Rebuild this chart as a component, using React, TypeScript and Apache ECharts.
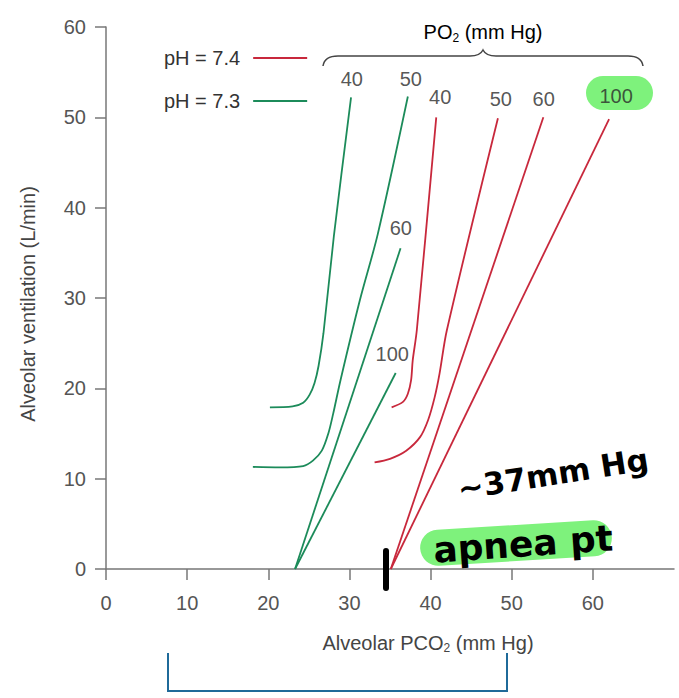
import React, { useEffect, useRef } from 'react';
import * as echarts from 'echarts';

const RED = '#c8283c';
const GREEN = '#1c8b5a';
const HIGHLIGHT = '#7ef27c';

// Alveolar ventilation (L/min) vs alveolar PCO2 (mm Hg): [PCO2, ventilation]
// pH = 7.4
const ph74_po2_40 = [[35.2, 17.9], [36.6, 18.5], [37.2, 19.4], [37.6, 20.9], [37.8, 23.1], [38.3, 26.4], [40.7, 50.0]];
const ph74_po2_50 = [[33.1, 11.8], [35.0, 12.2], [37.0, 13.1], [38.7, 14.6], [39.7, 16.5], [40.5, 19.0], [41.1, 21.6], [42.0, 26.4], [48.3, 49.9]];
const ph74_po2_60 = [[35.1, 0], [53.9, 50.0]];
const ph74_po2_100 = [[35.1, 0], [62.0, 49.8]];
// pH = 7.3
const ph73_po2_40 = [[20.2, 17.9], [23.0, 18.0], [24.3, 18.4], [25.1, 19.3], [25.7, 20.6], [26.2, 22.5], [26.8, 26.1], [28.1, 37.0], [30.2, 52.2]];
const ph73_po2_50 = [[18.1, 11.3], [21.4, 11.25], [24.3, 11.4], [25.5, 12.0], [26.6, 13.1], [27.4, 15.0], [28.0, 17.2], [28.9, 20.9], [31.3, 29.8], [33.5, 37.1], [37.2, 52.3]];
const ph73_po2_60 = [[23.3, 0], [36.3, 35.5]];
const ph73_po2_100 = [[23.3, 0], [35.7, 21.7]];

// PO2 labels placed at the curve ends
const curveLabelNames = ['40', '50', '60', '100', '40', '50', '60', '100'];
const curveLabelPositions = [
  [30.3, 54.2], [37.56, 54.2], [36.33, 37.7], [35.28, 23.8],
  [41.19, 52.3], [48.65, 52.0], [53.94, 52.0], [62.87, 52.4],
];

const xTicks = [0, 10, 20, 30, 40, 50, 60];
const legendNames = ['pH = 7.4', 'pH = 7.3'];

const braceD =
  'M323,66 C324,59 329,56 338,56 L470,56 C477,56 481,54 483,50 C485,54 489,56 496,56 L628,56 C637,56 642,59 643,66';
echarts.graphic.registerShape('brace', echarts.graphic.extendPath(braceD, {}));

const FONT = "'Liberation Sans', Arial, Helvetica, sans-serif";
const HAND = "'DejaVu Sans', sans-serif";
const FS = 20;

function lineSeries(name: string, data: number[][], color: string) {
  return {
    type: 'line',
    name,
    data,
    color,
    symbol: 'none',
    smooth: 0.3,
    silent: true,
    lineStyle: { width: 1.8, color },
    z: 3,
  };
}

export default function App() {
  const ref = useRef<HTMLDivElement>(null);
  useEffect(() => {
    document.body.style.margin = '0';
    const chart = echarts.init(ref.current!, undefined, { renderer: 'svg' });
    const richMain = { fontSize: FS, color: '#444', fontFamily: FONT, lineHeight: 23 };
    const richSub = { fontSize: 12, color: '#444', fontFamily: FONT, verticalAlign: 'bottom' };
    chart.setOption({
      animation: false,
      backgroundColor: '#ffffff',
      textStyle: { fontFamily: FONT },
      grid: { left: 106, right: 5, top: 27, bottom: 129, containLabel: false, outerBoundsMode: 'none' },
      legend: {
        data: legendNames,
        orient: 'vertical',
        left: 159,
        top: 43,
        align: 'right',
        icon: 'rect',
        itemWidth: 54,
        itemHeight: 2,
        itemGap: 23,
        selectedMode: false,
        textStyle: { fontSize: FS, color: '#333', fontFamily: FONT, padding: [0, 8, 0, 0] },
      },
      xAxis: {
        type: 'value',
        min: 0,
        max: 70,
        interval: 10,
        name: '{a|Alveolar PCO}{s|2}{a| (mm Hg)}',
        nameLocation: 'middle',
        nameGap: 62,
        nameTextStyle: { padding: [0, 0, 0, 76], rich: { a: richMain, s: richSub } },
        axisLine: { lineStyle: { color: '#777', width: 1.5 } },
        axisTick: { length: 11, customValues: xTicks, lineStyle: { color: '#777', width: 1.5 } },
        axisLabel: { customValues: xTicks, margin: 24, fontSize: FS, color: '#555', fontFamily: FONT },
        splitLine: { show: false },
      },
      yAxis: {
        type: 'value',
        min: 0,
        max: 60,
        interval: 10,
        name: 'Alveolar ventilation (L/min)',
        nameLocation: 'middle',
        nameGap: 68,
        nameTextStyle: { fontSize: FS, color: '#444', fontFamily: FONT, padding: [0, 12, 0, 0] },
        axisLine: { show: true, lineStyle: { color: '#777', width: 1.5 } },
        axisTick: { show: true, length: 11, lineStyle: { color: '#777', width: 1.5 } },
        axisLabel: { margin: 20, fontSize: FS, color: '#555', fontFamily: FONT },
        splitLine: { show: false },
      },
      series: [
        lineSeries('pH = 7.4', ph74_po2_40, RED),
        lineSeries('pH = 7.4', ph74_po2_50, RED),
        lineSeries('pH = 7.4', ph74_po2_60, RED),
        lineSeries('pH = 7.4', ph74_po2_100, RED),
        lineSeries('pH = 7.3', ph73_po2_40, GREEN),
        lineSeries('pH = 7.3', ph73_po2_50, GREEN),
        lineSeries('pH = 7.3', ph73_po2_60, GREEN),
        lineSeries('pH = 7.3', ph73_po2_100, GREEN),
        {
          type: 'scatter',
          name: 'PO2 labels',
          symbolSize: 1,
          itemStyle: { color: 'rgba(0,0,0,0)' },
          silent: true,
          z: 5,
          data: curveLabelPositions.map((p, i) => ({ name: curveLabelNames[i], value: p })),
          label: {
            show: true,
            position: 'inside',
            formatter: (p: any) => p.name,
            fontSize: FS,
            color: '#2a2a2a',
            fontFamily: FONT,
          },
        },
      ],
      graphic: [
        {
          type: 'text',
          x: 483,
          y: 32,
          style: {
            text: '{a|PO}{s|2}{a| (mm Hg)}',
            align: 'center',
            verticalAlign: 'middle',
            rich: { a: { ...richMain, color: '#333' }, s: { ...richSub, color: '#333' } },
          },
        },
        {
          type: 'brace',
          x: 0,
          y: 0,
          style: { fill: 'none', stroke: '#444', lineWidth: 1.5 },
        },
        // highlighter behind "100"
        {
          type: 'rect',
          z: 0,
          shape: { x: 586, y: 76, width: 67, height: 34, r: 17 },
          style: { fill: HIGHLIGHT },
        },
        // highlighter behind "apnea pt"
        {
          type: 'rect',
          z: 50,
          x: 516,
          y: 543,
          rotation: 0.06,
          shape: { x: -96, y: -18, width: 192, height: 36, r: 18 },
          style: { fill: HIGHLIGHT },
        },
        {
          type: 'text',
          z: 60,
          x: 523,
          y: 544,
          rotation: 0.07,
          style: {
            text: 'apnea pt',
            align: 'center',
            verticalAlign: 'middle',
            fontSize: 36,
            fontWeight: 'bold',
            fontFamily: HAND,
            fill: '#000',
          },
        },
        {
          type: 'text',
          z: 60,
          x: 553,
          y: 474,
          rotation: 0.157,
          style: {
            text: '~37mm Hg',
            align: 'center',
            verticalAlign: 'middle',
            fontSize: 31,
            fontWeight: 'bold',
            fontFamily: HAND,
            fill: '#000',
          },
        },
        {
          type: 'line',
          z: 60,
          shape: { x1: 386, y1: 551, x2: 386, y2: 588 },
          style: { stroke: '#000', lineWidth: 6, lineCap: 'round' },
        },
        // blue bracket at the bottom
        {
          type: 'polyline',
          z: 10,
          shape: { points: [[168, 653], [168, 691], [507, 691], [507, 653]] },
          style: { fill: 'none', stroke: '#1f6a99', lineWidth: 2 },
        },
      ],
    });
    return () => chart.dispose();
  }, []);
  return <div ref={ref} style={{ width: 679, height: 698 }} />;
}
